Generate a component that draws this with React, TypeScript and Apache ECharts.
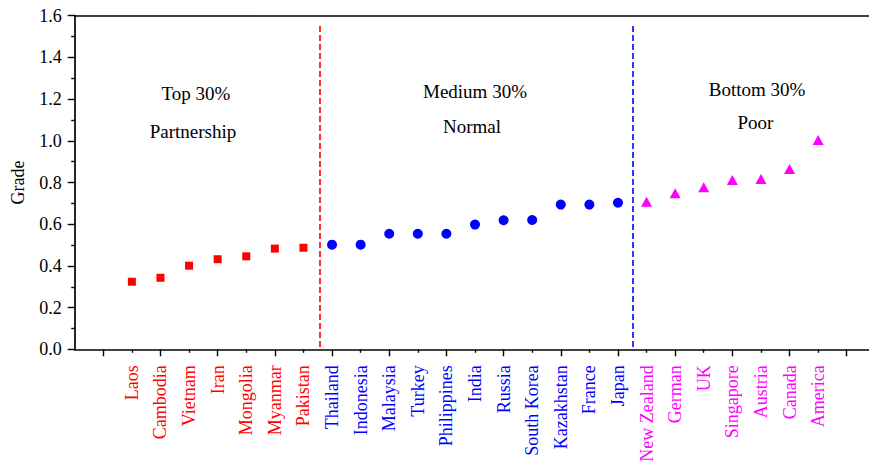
import React, { useEffect, useRef } from 'react';
import * as echarts from 'echarts';

const topCountries = ['Laos', 'Cambodia', 'Vietnam', 'Iran', 'Mongolia', 'Myanmar', 'Pakistan'];
const topValues = [0.324, 0.343, 0.401, 0.432, 0.446, 0.483, 0.487];
const midCountries = ['Thailand', 'Indonesia', 'Malaysia', 'Turkey', 'Philippines', 'India', 'Russia', 'South Korea', 'Kazakhstan', 'France', 'Japan'];
const midValues = [0.502, 0.502, 0.554, 0.554, 0.554, 0.598, 0.619, 0.62, 0.694, 0.694, 0.703];
const botCountries = ['New Zealand', 'German', 'UK', 'Singapore', 'Austria', 'Canada', 'America'];
const botValues = [0.708, 0.748, 0.777, 0.812, 0.817, 0.865, 1.004];

const groupLabels = [
  ['Top 30%', 'Partnership'],
  ['Medium 30%', 'Normal'],
  ['Bottom 30%', 'Poor'],
];
const dividerPositions = [8.58, 19.5];
const dividerTop = [1.564, 1.555];
const dividerBottom = 0.011;

const yMin = 0;
const yMax = 1.6;
const yInterval = 0.2;
const firstSlot = 2;
const slotCount = 29;

const RED = '#ff0000';
const BLUE = '#0000ff';
const MAGENTA = '#ff00ff';
const FONT = "'Liberation Serif', 'Times New Roman', serif";

const allCountries = [...topCountries, ...midCountries, ...botCountries];
const colorOf: Record<string, string> = {};
topCountries.forEach((c) => (colorOf[c] = RED));
midCountries.forEach((c) => (colorOf[c] = BLUE));
botCountries.forEach((c) => (colorOf[c] = MAGENTA));

const slots: string[] = [];
for (let i = 0; i < slotCount; i++) {
  const c = allCountries[i - firstSlot];
  slots.push(c !== undefined ? c : ' '.repeat(i + 1));
}

const toData = (vals: number[], offset: number) => vals.map((v, i) => [firstSlot + offset + i, v]);

export default function App() {
  const ref = useRef<HTMLDivElement>(null);
  useEffect(() => {
    if (!ref.current) return;
    const chart = echarts.init(ref.current, undefined, { renderer: 'svg' });
    const LW = 1.7;
    const axisLine = { show: true, lineStyle: { color: '#000', width: LW } };
    const makeDivider = (pos: number, top: number, color: string) => ({
      silent: true,
      symbol: ['none', 'none'],
      label: { show: false },
      lineStyle: { color, type: [6, 3], width: 1.6, opacity: 1 },
      data: [[{ coord: [pos, dividerBottom] }, { coord: [pos, top] }]],
    });
    const textEl = (text: string, x: number, y: number) => ({
      type: 'text',
      x,
      y,
      style: {
        text,
        fill: '#000',
        fontSize: 19,
        fontFamily: FONT,
        align: 'center',
        verticalAlign: 'middle',
        textAlign: 'center',
        textVerticalAlign: 'middle',
      },
    });
    const textPos = [
      [[196, 93], [193, 131]],
      [[475, 91], [472, 126]],
      [[757, 89], [755.5, 122.5]],
    ];
    const graphics: any[] = [];
    groupLabels.forEach((g, gi) => {
      g.forEach((t, ti) => graphics.push(textEl(t, textPos[gi][ti][0], textPos[gi][ti][1])));
    });

    chart.setOption({
      animation: false,
      backgroundColor: '#fff',
      textStyle: { fontFamily: FONT },
      grid: {
        left: 74.7,
        top: 15.7,
        bottom: 118.7,
        right: -6.3,
        containLabel: false,
        outerBoundsMode: 'none',
        show: false,
      },
      xAxis: [
        {
          type: 'category',
          data: slots,
          boundaryGap: false,
          position: 'bottom',
          axisLine,
          axisTick: {
            show: true,
            interval: (i: number) => i % 2 === 1,
            length: 7,
            lineStyle: { color: '#000', width: 1.4 },
          },
          axisLabel: {
            interval: 0,
            rotate: 90,
            margin: 16,
            fontSize: 18,
            fontFamily: FONT,
            color: (v: string) => colorOf[v] || '#000',
          },
          splitLine: { show: false },
        },
        {
          type: 'category',
          data: slots,
          boundaryGap: false,
          position: 'bottom',
          axisLine: { show: false },
          axisTick: {
            show: true,
            interval: (i: number) => i % 2 === 0 && i > 0,
            length: 3.5,
            lineStyle: { color: '#000', width: 1.4 },
          },
          axisLabel: { show: false },
          splitLine: { show: false },
        },
        {
          type: 'value',
          min: 0,
          max: slotCount - 1,
          show: false,
          splitLine: { show: false },
        },
        {
          type: 'category',
          data: slots,
          boundaryGap: false,
          position: 'top',
          axisLine: { show: true, onZero: false, lineStyle: { color: '#000', width: LW } },
          axisTick: { show: false },
          axisLabel: { show: false },
          splitLine: { show: false },
        },
      ],
      yAxis: {
        type: 'value',
        min: yMin,
        max: yMax,
        interval: yInterval,
        axisLine,
        axisTick: { show: true, length: 7, lineStyle: { color: '#000', width: 1.4 } },
        minorTick: { show: true, splitNumber: 2, length: 3.5, lineStyle: { color: '#000', width: 1.4 } },
        axisLabel: {
          formatter: (v: number) => v.toFixed(1),
          fontSize: 18,
          fontFamily: FONT,
          color: '#000',
          margin: 13,
        },
        splitLine: { show: false },
        name: 'Grade',
        nameLocation: 'middle',
        nameGap: 48,
        nameTextStyle: { fontSize: 18, fontFamily: FONT, color: '#000' },
      },
      graphic: graphics,
      series: [
        {
          type: 'scatter',
          xAxisIndex: 2,
          symbol: 'rect',
          symbolSize: 8,
          itemStyle: { color: RED, opacity: 1 },
          data: toData(topValues, 0),
          markLine: makeDivider(dividerPositions[0], dividerTop[0], RED),
        },
        {
          type: 'scatter',
          xAxisIndex: 2,
          symbol: 'circle',
          symbolSize: 10,
          itemStyle: { color: BLUE, opacity: 1 },
          data: toData(midValues, topValues.length),
          markLine: makeDivider(dividerPositions[1], dividerTop[1], BLUE),
        },
        {
          type: 'scatter',
          xAxisIndex: 2,
          symbol: 'triangle',
          symbolSize: [11, 10],
          itemStyle: { color: MAGENTA, opacity: 1 },
          data: toData(botValues, topValues.length + midValues.length),
        },
      ],
    });
    return () => chart.dispose();
  }, []);
  return (
    <div
      ref={ref}
      style={{ position: 'absolute', left: 0, top: 0, width: 869, height: 468 }}
    />
  );
}
